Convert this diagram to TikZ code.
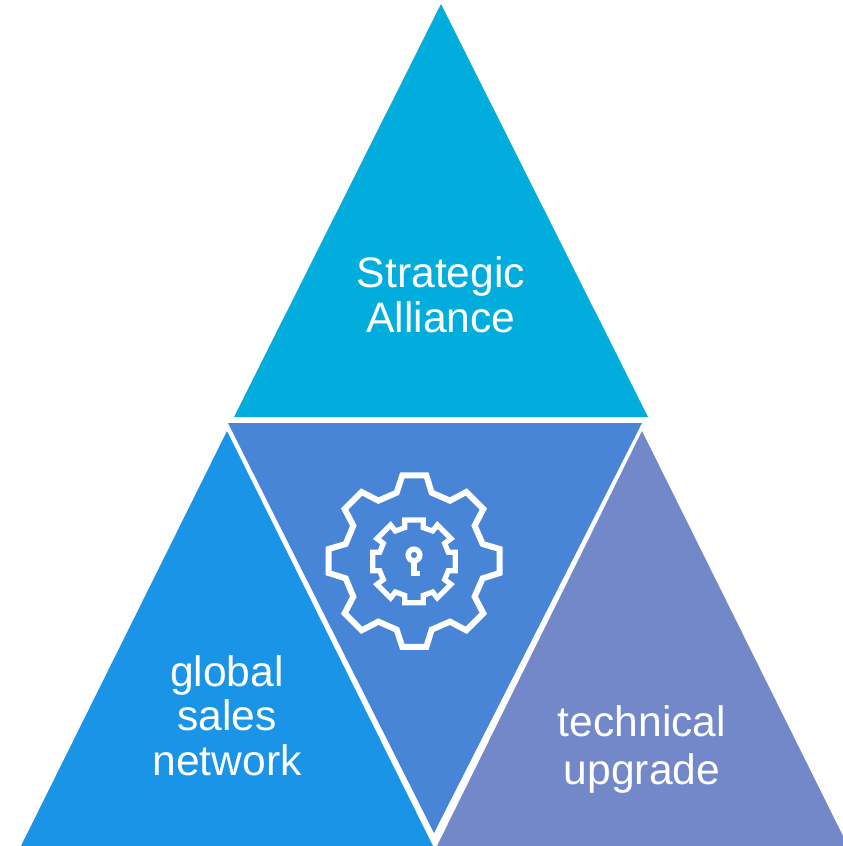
\documentclass[tikz,border=0pt]{standalone}
\usepackage{fontspec}
\setmainfont{Liberation Sans}
\definecolor{topcyan}{HTML}{00ADDC}
\definecolor{midblue}{HTML}{4885D6}
\definecolor{leftblue}{HTML}{1A94E6}
\definecolor{rightblue}{HTML}{7288C8}
\tikzstyle{tri_text} = [text=white, align=center, inner sep=0pt, font=\fontsize{42.6}{45}\selectfont]
\tikzstyle{gear_line} = [draw=white, line join=miter, miter limit=4]
\begin{document}
\begin{tikzpicture}[x=1pt, y=-1pt]
   \useasboundingbox (0,0) rectangle (843,846);
   \fill [topcyan] (441,4) -- (648,417) -- (234,417) -- cycle;
   \fill [midblue] (228,423) -- (642,423) -- (434,833) -- cycle;
   \fill [leftblue] (227,431) -- (433,846) -- (21,846) -- cycle;
   \fill [rightblue] (642,431) -- (843,836) -- (843,846) -- (437,846) -- cycle;
   \node [tri_text] (strategic_alliance) at (441,295) {Strategic\\Alliance};
   \node [tri_text] (sales_network) at (227,715.5) {global\\[-0.5pt]sales\\[-0.5pt]network};
   \node [tri_text] (tech_upgrade) at (642,749.5) {technical\\[3pt]upgrade};
   % gear icon
   \begin{scope}[shift={(310,460)}, x=0.3333pt, y=-0.3333pt]
      \path [gear_line, line width=6pt] (277,46) -- (349,46) -- (365,98) -- (420,122) -- (469,96) -- (520,147)
         -- (494,197) -- (518,252) -- (569,267) -- (569,339) -- (518,355) -- (494,410) -- (520,460) -- (469,511)
         -- (420,485) -- (365,509) -- (349,561) -- (277,561) -- (260,509) -- (205,485) -- (155,511) -- (104,460)
         -- (130,410) -- (107,355) -- (56,339) -- (56,267) -- (107,252) -- (130,197) -- (104,147) -- (155,96)
         -- (205,122) -- (260,98) -- cycle;
      \path [gear_line, line width=5.2pt] (284,180) -- (340,180) -- (340,203) -- (368,213) -- (382,195) -- (423,236)
         -- (404,250) -- (415,277) -- (436,277) -- (436,332) -- (415,332) -- (404,359) -- (423,373) -- (382,414)
         -- (368,396) -- (340,406) -- (340,428) -- (284,428) -- (284,406) -- (256,396) -- (242,414) -- (201,373)
         -- (220,359) -- (209,332) -- (188,332) -- (188,277) -- (209,277) -- (220,250) -- (201,236) -- (242,195)
         -- (256,213) -- (284,203) -- cycle;
      \path [gear_line, line width=5.4pt] (312,285) circle [radius=17.5];
      \path [gear_line, line width=5.4pt] (312,300) -- (312,347);
      \path [gear_line, line width=4.7pt] (303,340) -- (331,340);
   \end{scope}
\end{tikzpicture}
\end{document}
